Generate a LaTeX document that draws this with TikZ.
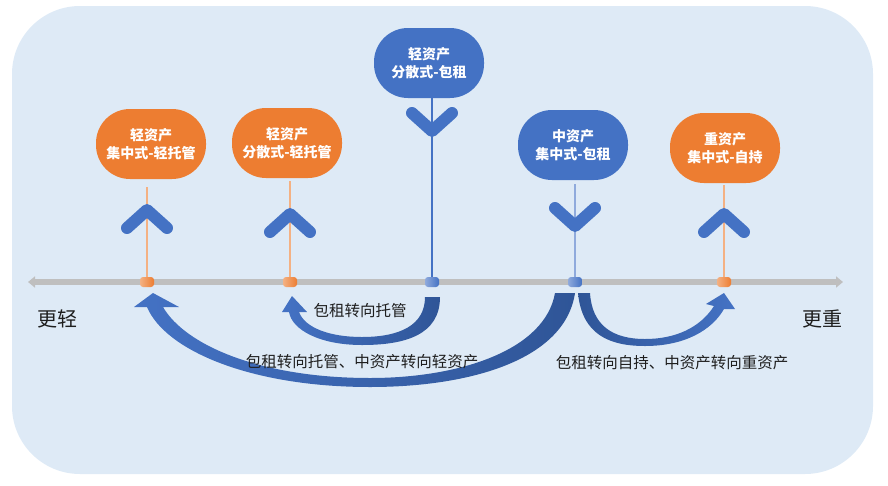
\documentclass[tikz,border=0pt]{standalone}
\usepackage{fontspec}
\newfontfamily\cjk{Noto Sans CJK SC}
\usepackage{xcolor}
\usetikzlibrary{arrows.meta}
\definecolor{bgblue}{RGB}{222,234,246}
\definecolor{ablue}{RGB}{68,114,196}
\definecolor{dblue}{RGB}{47,85,151}
\definecolor{lblue}{RGB}{143,170,220}
\definecolor{aorange}{RGB}{237,125,49}
\definecolor{lorange}{RGB}{244,177,131}
\definecolor{agray}{RGB}{191,191,191}
\definecolor{txt}{RGB}{30,30,30}

\begin{document}
\begin{tikzpicture}[x=1pt,y=-1pt,font=\cjk,
    stage/.style={rounded corners=34pt,minimum width=110pt,minimum height=70pt,text=white,align=center,
      font=\cjk\bfseries\fontsize{14}{18}\selectfont},
    tick/.style={rounded corners=3pt,minimum width=14pt,minimum height=10pt,inner sep=0pt},
    chev/.style={ablue,line width=12pt,line cap=round,line join=round},
    side/.style={txt,font=\cjk\fontsize{20}{24}\selectfont},
    move/.style={txt,inner sep=1pt,font=\cjk\fontsize{15.5}{18}\selectfont}]
  \useasboundingbox (0,0) rectangle (888,485);
  \fill[bgblue,rounded corners=68pt] (12,6) rectangle (873,474);
  \coordinate (axl) at (28,282);
  \coordinate (axr) at (843,282);
  \draw[agray,line width=6pt,{Triangle[width=11pt,length=7pt]}-{Triangle[width=11pt,length=7pt]}] (axl) -- (axr);
  \node[stage,fill=aorange] (b1) at (151,144) {轻资产\\集中式-轻托管};
  \node[stage,fill=aorange] (b2) at (287,143) {轻资产\\分散式-轻托管};
  \node[stage,fill=ablue] (b3) at (429,63) {轻资产\\分散式-包租};
  \node[stage,fill=ablue] (b4) at (573,145) {中资产\\集中式-包租};
  \node[stage,fill=aorange] (b5) at (725,148) {重资产\\集中式-自持};
  \foreach \name/\x/\c in {m1/147/orange, m2/290/orange, m3/432/blue, m4/575/blue, m5/724/orange}
    \node[tick,left color=l\c,right color=a\c] (\name) at (\x,282) {};
  \draw[lorange,line width=1.5pt,shorten <=8pt] (m1.north |- b1.south) -- (m1.north);
  \draw[lorange,line width=1.5pt,shorten <=3pt] (m2.north |- b2.south) -- (m2.north);
  \draw[ablue,line width=1.5pt] (m3.north |- b3.south) -- (m3.north);
  \draw[lblue,line width=1.5pt,shorten <=4pt] (m4.north |- b4.south) -- (m4.north);
  \draw[lorange,line width=1.5pt,shorten <=2pt] (m5.north |- b5.south) -- (m5.north);
  \foreach \x/\y in {147/210, 290/214, 724/214}
    \draw[chev] (\x-20,\y+18) -- (\x,\y) -- (\x+20,\y+18);
  \foreach \x/\y in {432/131, 575/226}
    \draw[chev] (\x-20,\y-18) -- (\x,\y) -- (\x+20,\y-18);
  \shade[left color=ablue,right color=dblue]
    (440,297) .. controls (440,335) and (405,345) .. (362,345) .. controls (320,345) and (292,330) .. (289,312)
    -- (282,312) -- (292,296) -- (307,312) -- (299,312)
    .. controls (305,328) and (330,337) .. (362,337) .. controls (400,337) and (425,325) .. (425,297) -- cycle;
  \shade[left color=ablue,right color=dblue]
    (575,293) .. controls (565,360) and (470,387) .. (370,387) .. controls (250,387) and (165,350) .. (147,307)
    -- (134,307) -- (153,293) -- (179,307) -- (163,307)
    .. controls (185,345) and (260,378) .. (370,378) .. controls (460,378) and (545,350) .. (555,293) -- cycle;
  \shade[left color=dblue,right color=ablue]
    (578,293) .. controls (582,335) and (610,346) .. (645,346) .. controls (685,346) and (712,330) .. (724,309)
    -- (735,309) -- (724,293) -- (706,304) -- (714,306)
    .. controls (700,328) and (675,339) .. (645,339) .. controls (612,339) and (592,325) .. (590,293) -- cycle;
  \node[side] (light) at (57,319) {更轻};
  \node[side] (heavy) at (822,319) {更重};
  \node[move] (toA) at (360,311) {包租转向托管};
  \node[move] (toB) at (362,362) {包租转向托管、中资产转向轻资产};
  \node[move] (toC) at (672,363) {包租转向自持、中资产转向重资产};
\end{tikzpicture}
\end{document}
